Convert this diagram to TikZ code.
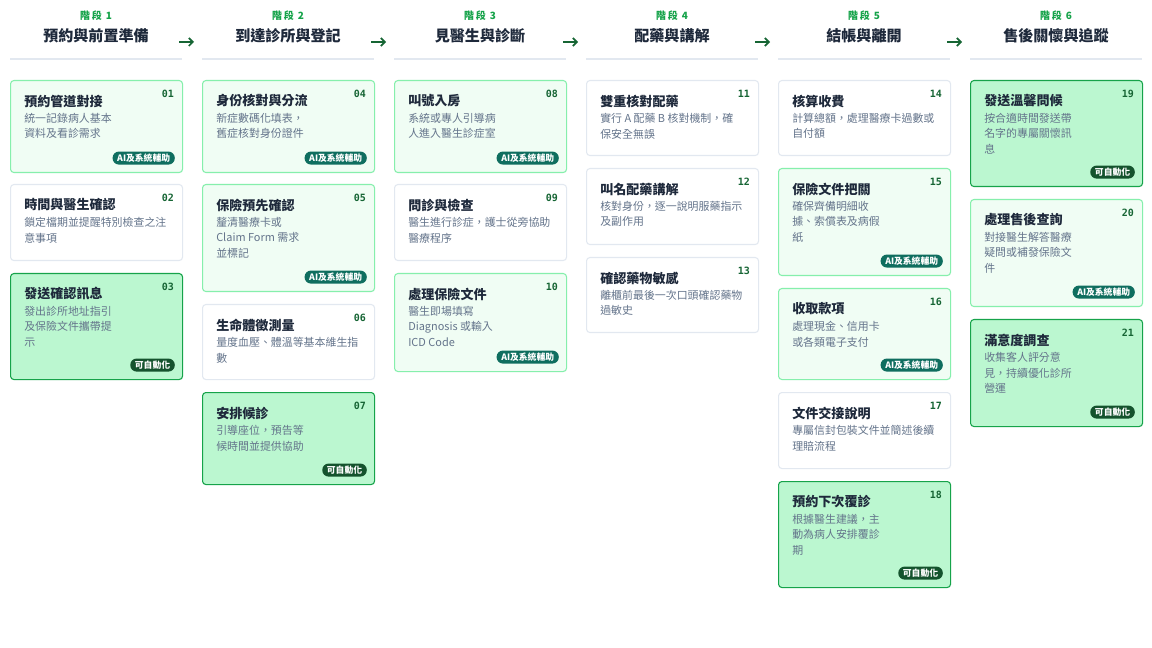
\documentclass[tikz,border=0pt]{standalone}
\usepackage{fontspec}
\usetikzlibrary{arrows.meta}
\setmainfont{Noto Sans CJK TC}
\newfontfamily\monof{DejaVu Sans Mono}
\definecolor{aifill}{HTML}{F0FDF4}
\definecolor{ailine}{HTML}{86EFAC}
\definecolor{aufill}{HTML}{BBF7D0}
\definecolor{auline}{HTML}{16A34A}
\definecolor{plline}{HTML}{E2E8F0}
\definecolor{aibadge}{HTML}{0F6E5F}
\definecolor{aubadge}{HTML}{14532D}
\definecolor{ttl}{HTML}{1E293B}
\definecolor{dsc}{HTML}{64748B}
\definecolor{num}{HTML}{166534}
\definecolor{stg}{HTML}{16A34A}
\tikzset{
 card/.style={draw, rounded corners=2.5pt, line width=0.8pt, anchor=north west, minimum width=129pt, inner sep=0pt},
 ai/.style={card, fill=aifill, draw=ailine},
 au/.style={card, fill=aufill, draw=auline},
 pl/.style={card, fill=white, draw=plline},
 ctitle/.style={anchor=west, font=\bfseries\fontsize{9.8}{11}\selectfont, text=ttl, inner sep=0pt},
 cdesc/.style={anchor=north west, font=\fontsize{8.2}{11.6}\selectfont, text=dsc, inner sep=0pt, align=left},
 cnum/.style={anchor=east, font=\monof\bfseries\fontsize{7.5}{9}\selectfont, text=num, inner sep=0pt},
 badge/.style={anchor=east, rounded corners=4.8pt, text=white, font=\bfseries\fontsize{6.6}{7}\selectfont, inner xsep=3.5pt, inner ysep=1.5pt, minimum height=9.8pt},
 stage/.style={font=\bfseries\fontsize{7.5}{9}\selectfont, text=stg},
 htitle/.style={font=\bfseries\fontsize{11.3}{13}\selectfont, text=ttl},
}
\def\card#1#2#3#4#5#6#7#8#9{%
 \node (c#6) [#5, minimum height=#4*0.75pt] at (#2,#3) {};
 \node [ctitle] at ([shift={(14,21)}]c#6.north west) {#7};
 \node [cnum] at ([shift={(-9,14)}]c#6.north east) {#6};
 \node [cdesc] at ([shift={(14,33)}]c#6.north west) {#8};
 \ifx#9a\node [badge, fill=aibadge] at ([shift={(-8,-15)}]c#6.south east) {AI及系統輔助};\fi
 \ifx#9u\node [badge, fill=aubadge] at ([shift={(-8,-15)}]c#6.south east) {可自動化};\fi
}
\begin{document}
\begin{tikzpicture}[x=0.75pt,y=-0.75pt]
\useasboundingbox (0,0) rectangle (1152,648);
\fill[white] (0,0) rectangle (1152,648);
\foreach \i/\t [count=\k from 0] in {1/預約與前置準備,2/到達診所與登記,3/見醫生與診斷,4/配藥與講解,5/結帳與離開,6/售後關懷與追蹤}{
  \node[stage] (s\i) at (96+192*\k,16) {階\,段\, \i};
  \node[htitle] (h\i) at (96+192*\k,36) {\t};
  \draw[plline, line width=0.8pt] (10+192*\k,59) -- (182+192*\k,59);
}
\foreach \k in {0,...,4}{
  \coordinate (a\k) at (179+192*\k,42);
  \coordinate (b\k) at (194+192*\k,42);
  \draw[num, line width=1.3pt, -{Straight Barb[length=3pt,width=6pt]}] (a\k) -- (b\k);
}
% col1
\card{a}{10}{80}{92}{ai}{01}{預約管道對接}{統一記錄病人基本\\資料及看診需求}{a}
\card{a}{10}{184}{76}{pl}{02}{時間與醫生確認}{鎖定檔期並提醒特別檢查之注\\意事項}{n}
\card{a}{10}{273}{106}{au}{03}{發送確認訊息}{發出診所地址指引\\及保險文件攜帶提\\示}{u}
% col2
\card{a}{202}{80}{92}{ai}{04}{身份核對與分流}{新症數碼化填表，\\舊症核對身份證件}{a}
\card{a}{202}{184}{107}{ai}{05}{保險預先確認}{釐清醫療卡或\\Claim Form 需求\\並標記}{a}
\card{a}{202}{304}{75}{pl}{06}{生命體徵測量}{量度血壓、體溫等基本維生指\\數}{n}
\card{a}{202}{392}{92}{au}{07}{安排候診}{引導座位，預告等\\候時間並提供協助}{u}
% col3
\card{a}{394}{80}{92}{ai}{08}{叫號入房}{系統或專人引導病\\人進入醫生診症室}{a}
\card{a}{394}{184}{76}{pl}{09}{問診與檢查}{醫生進行診症，護士從旁協助\\醫療程序}{n}
\card{a}{394}{273}{98}{ai}{10}{處理保險文件}{醫生即場填寫\\Diagnosis 或輸入\\ICD Code}{a}
% col4
\card{a}{586}{80}{75}{pl}{11}{雙重核對配藥}{實行 A 配藥 B 核對機制，確\\保安全無誤}{n}
\card{a}{586}{168}{76}{pl}{12}{叫名配藥講解}{核對身份，逐一說明服藥指示\\及副作用}{n}
\card{a}{586}{257}{75}{pl}{13}{確認藥物敏感}{離櫃前最後一次口頭確認藥物\\過敏史}{n}
% col5
\card{a}{778}{80}{75}{pl}{14}{核算收費}{計算總額，處理醫療卡過數或\\自付額}{n}
\card{a}{778}{168}{107}{ai}{15}{保險文件把關}{確保齊備明細收\\據、索償表及病假\\紙}{a}
\card{a}{778}{288}{91}{ai}{16}{收取款項}{處理現金、信用卡\\或各類電子支付}{a}
\card{a}{778}{392}{76}{pl}{17}{文件交接說明}{專屬信封包裝文件並簡述後續\\理賠流程}{n}
\card{a}{778}{481}{106}{au}{18}{預約下次覆診}{根據醫生建議，主\\動為病人安排覆診\\期}{u}
% col6
\card{a}{970}{80}{106}{au}{19}{發送溫馨問候}{按合適時間發送帶\\名字的專屬關懷訊\\息}{u}
\card{a}{970}{199}{107}{ai}{20}{處理售後查詢}{對接醫生解答醫療\\疑問或補發保險文\\件}{a}
\card{a}{970}{319}{107}{au}{21}{滿意度調查}{收集客人評分意\\見，持續優化診所\\營運}{u}
\end{tikzpicture}
\end{document}
